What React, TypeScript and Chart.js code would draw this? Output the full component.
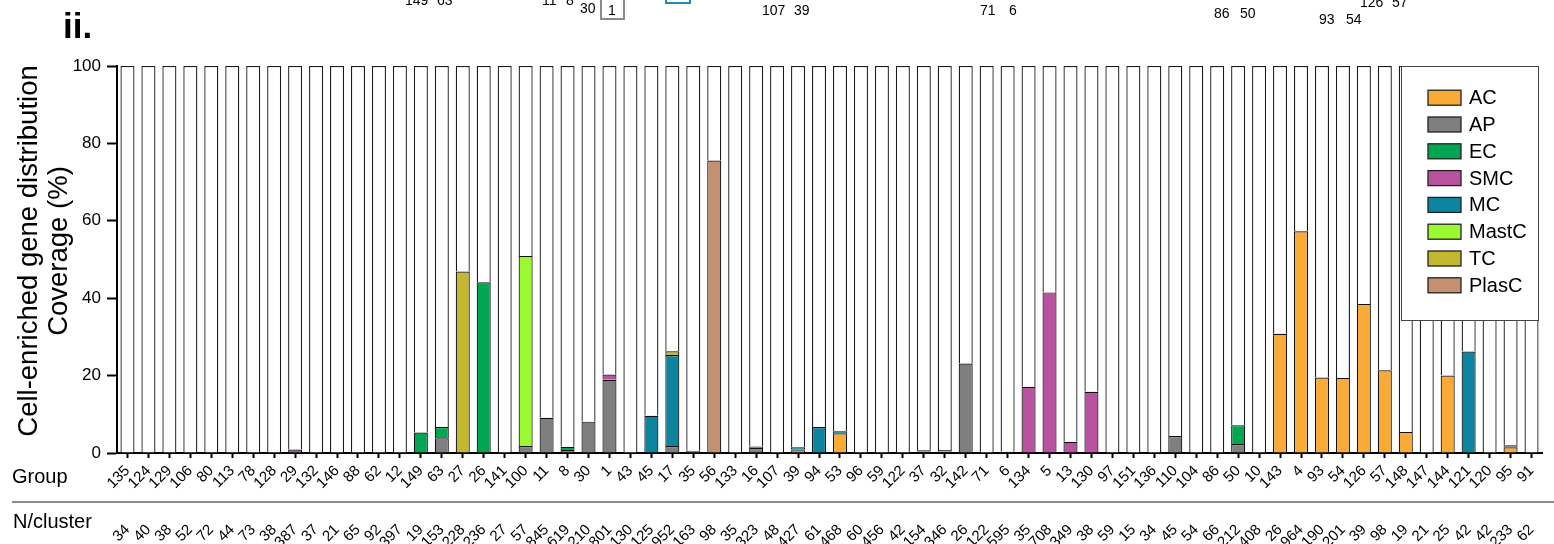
import React, { useEffect, useRef } from "react";
import { Chart, registerables } from "chart.js";

Chart.register(...registerables);

const FONT = '"Liberation Sans", Arial, Helvetica, sans-serif';

const groups = [
  "135", "124", "129", "106", "80", "113", "78", "128", "29", "132",
  "146", "88", "62", "12", "149", "63", "27", "26", "141", "100",
  "11", "8", "30", "1", "43", "45", "17", "35", "56", "133",
  "16", "107", "39", "94", "53", "96", "59", "122", "37", "32",
  "142", "71", "6", "134", "5", "13", "130", "97", "151", "136",
  "110", "104", "86", "50", "10", "143", "4", "93", "54", "126",
  "57", "148", "147", "144", "121", "120", "95", "91",
];

const nPerCluster = [
  "34", "40", "38", "52", "72", "44", "73", "38", "387", "37",
  "21", "65", "92", "397", "19", "153", "228", "236", "27", "57",
  "845", "619", "210", "801", "130", "125", "952", "163", "98", "35",
  "323", "48", "427", "61", "468", "60", "456", "42", "154", "346",
  "26", "122", "595", "35", "708", "349", "38", "59", "15", "34",
  "45", "54", "66", "212", "408", "26", "964", "190", "201", "39",
  "98", "19", "21", "25", "42", "42", "233", "62",
];

const AC = [
  0, 0, 0, 0, 0, 0, 0, 0, 0, 0,
  0, 0, 0, 0, 0, 0, 0, 0, 0, 0,
  0, 0, 0, 0, 0, 0, 0, 0, 0, 0,
  0, 0, 0.7, 0, 5.1, 0, 0, 0, 0, 0,
  0, 0, 0, 0, 0, 0, 0, 0, 0, 0,
  0, 0, 0, 0, 0, 30.8, 57.3, 19.5, 19.4, 38.5,
  21.4, 5.4, 0, 20.0, 0, 0, 1.5, 0,
];

const AP = [
  0, 0, 0, 0, 0, 0, 0, 0, 0, 0,
  0, 0, 0, 0, 0, 3.8, 0, 0, 0, 1.8,
  9.1, 0.8, 8.1, 18.9, 0, 0, 1.8, 0.6, 0, 0,
  1.3, 0, 0.3, 0, 0, 0, 0, 0, 0.3, 0.3,
  23.1, 0, 0.3, 0, 0, 0, 0, 0, 0, 0,
  4.4, 0, 0, 2.3, 0, 0, 0, 0, 0, 0,
  0, 0, 0, 0, 0, 0, 0.5, 0,
];

const EC = [
  0, 0, 0, 0, 0, 0, 0, 0, 0, 0,
  0, 0, 0, 0, 5.3, 2.9, 0, 44.1, 0, 0,
  0, 0.8, 0, 0, 0, 0, 0, 0, 0, 0,
  0, 0, 0, 0, 0, 0, 0, 0, 0.4, 0,
  0, 0, 0, 0, 0, 0, 0, 0, 0, 0,
  0, 0, 0, 4.9, 0, 0, 0, 0, 0, 0,
  0, 0, 0, 0, 0, 0, 0, 0,
];

const SMC = [
  0, 0, 0, 0, 0, 0, 0, 0, 0.9, 0,
  0, 0, 0, 0, 0, 0, 0, 0, 0, 0,
  0, 0, 0, 1.4, 0, 0, 0, 0, 0, 0,
  0.4, 0, 0, 0, 0, 0, 0, 0, 0, 0.5,
  0, 0, 0, 17.1, 41.5, 2.9, 15.8, 0, 0, 0,
  0, 0, 0, 0, 0, 0, 0, 0, 0, 0,
  0, 0, 0, 0, 0, 0, 0, 0,
];

const MC = [
  0, 0, 0, 0, 0, 0, 0, 0, 0, 0,
  0, 0, 0, 0, 0, 0, 0, 0, 0, 0,
  0, 0, 0, 0, 0, 9.6, 23.5, 0, 0, 0,
  0, 0, 0.5, 6.7, 0.5, 0, 0, 0, 0, 0,
  0, 0, 0, 0, 0, 0, 0, 0, 0, 0,
  0, 0, 0, 0, 0, 0, 0, 0, 0, 0,
  0, 0, 0, 0, 26.2, 0, 0, 0,
];

const MastC = [
  0, 0, 0, 0, 0, 0, 0, 0, 0, 0,
  0, 0, 0, 0, 0, 0, 0, 0, 0, 49.1,
  0, 0, 0, 0, 0, 0, 0, 0, 0, 0,
  0, 0, 0, 0, 0, 0, 0, 0, 0, 0,
  0, 0, 0, 0, 0, 0, 0, 0, 0, 0,
  0, 0, 0, 0, 0, 0, 0, 0, 0, 0,
  0, 0, 0, 0, 0, 0, 0, 0,
];

const TC = [
  0, 0, 0, 0, 0, 0, 0, 0, 0, 0,
  0, 0, 0, 0, 0, 0, 46.9, 0, 0, 0,
  0, 0, 0, 0, 0, 0, 1.0, 0, 0, 0,
  0, 0, 0, 0, 0, 0, 0, 0, 0, 0,
  0, 0, 0, 0, 0, 0, 0, 0, 0, 0,
  0, 0, 0, 0, 0, 0, 0, 0, 0, 0,
  0, 0, 0, 0, 0, 0, 0, 0,
];

const PlasC = [
  0, 0, 0, 0, 0, 0, 0, 0, 0, 0,
  0, 0, 0, 0, 0, 0, 0, 0, 0, 0,
  0, 0, 0, 0, 0, 0, 0, 0, 75.6, 0,
  0, 0, 0, 0, 0, 0, 0, 0, 0, 0,
  0, 0, 0, 0, 0, 0, 0, 0, 0, 0,
  0, 0, 0, 0, 0, 0, 0, 0, 0, 0,
  0, 0, 0, 0, 0, 0, 0, 0,
];

const cellTypes = ["AC", "AP", "EC", "SMC", "MC", "MastC", "TC", "PlasC"];
const cellSeries = [AC, AP, EC, SMC, MC, MastC, TC, PlasC];
const cellColors = [
  "#FAAA36", "#7F7F7F", "#00A651", "#B9539F",
  "#0C86A0", "#9BF932", "#C4B831", "#C3916F",
];

const yTitleLines = ["Cell-enriched gene distribution", "Coverage (%)"];
const rowTitles = ["Group", "N/cluster"];

const overlayPlugin = {
  id: "overlay",
  afterDraw(chart: any) {
    const ctx = chart.ctx as CanvasRenderingContext2D;
    ctx.save();
    ctx.fillStyle = "#000";

    // y-axis title (two lines)
    ctx.save();
    ctx.font = `27.5px ${FONT}`;
    ctx.textAlign = "center";
    ctx.textBaseline = "middle";
    ctx.translate(29.5, 251);
    ctx.rotate(-Math.PI / 2);
    ctx.fillText(yTitleLines[0], 0, 0);
    ctx.fillText(yTitleLines[1], 0, 30);
    ctx.restore();

    // row titles and separator
    ctx.font = `20px ${FONT}`;
    ctx.textAlign = "left";
    ctx.textBaseline = "alphabetic";
    ctx.fillText(rowTitles[0], 12, 483);
    ctx.fillText(rowTitles[1], 13, 528);
    ctx.strokeStyle = "#666";
    ctx.lineWidth = 1.5;
    ctx.beginPath();
    ctx.moveTo(12, 502);
    ctx.lineTo(1554, 502);
    ctx.stroke();

    // panel label
    ctx.font = `bold 35px ${FONT}`;
    ctx.fillText("ii.", 63, 38);

    // fragments of the panel above (cut off)
    ctx.font = `14px ${FONT}`;
    const frags: [string, number, number][] = [
      ["149", 405, 5], ["63", 437, 5],
      ["11", 542, 5], ["8", 566, 5],
      ["30", 580, 13], ["1", 608, 15],
      ["107", 762, 15], ["39", 794, 15],
      ["71", 980, 15], ["6", 1009, 15],
      ["86", 1214, 18], ["50", 1240, 18],
      ["93", 1319, 24], ["54", 1346, 24],
      ["126", 1360, 7], ["57", 1392, 7],
    ];
    frags.forEach(([t, x, y]) => ctx.fillText(t, x, y));
    ctx.lineWidth = 2;
    ctx.strokeStyle = "#8a8a8a";
    ctx.strokeRect(601, -3, 23, 22);
    ctx.strokeStyle = "#1a8fa8";
    ctx.strokeRect(666, -20, 24, 23);

    // legend box
    ctx.fillStyle = "#fff";
    ctx.fillRect(1402, 67, 136, 253);
    ctx.strokeStyle = "#444";
    ctx.lineWidth = 1;
    ctx.strokeRect(1401.5, 66.5, 137, 254);
    ctx.font = `20px ${FONT}`;
    ctx.textBaseline = "middle";
    cellTypes.forEach((name, i) => {
      const cy = 97.7 + i * 26.8;
      ctx.fillStyle = cellColors[i];
      ctx.fillRect(1428, cy - 7.5, 33, 15);
      ctx.strokeStyle = "#222";
      ctx.lineWidth = 1.3;
      ctx.strokeRect(1428, cy - 7.5, 33, 15);
      ctx.fillStyle = "#000";
      ctx.fillText(name, 1469, cy + 1);
    });

    ctx.restore();
  },
};

export default function App() {
  const canvasRef = useRef<HTMLCanvasElement | null>(null);

  useEffect(() => {
    if (!canvasRef.current) return;
    const remainder = groups.map((_, i) => {
      const s = cellSeries.reduce((acc, arr) => acc + arr[i], 0);
      return Math.max(0, 100 - s);
    });
    const datasets: any[] = cellSeries.map((arr, k) => ({
      label: cellTypes[k],
      data: arr.map((v) => (v > 0 ? v : null)),
      backgroundColor: cellColors[k],
      borderColor: "#111111",
      borderWidth: 1.2,
      barPercentage: 0.67,
      categoryPercentage: 1,
      stack: "s",
    }));
    datasets.push({
      label: "rest",
      data: remainder,
      backgroundColor: "#ffffff",
      borderColor: "#1a1a1a",
      borderWidth: 1.3,
      barPercentage: 0.67,
      categoryPercentage: 1,
      stack: "s",
    });

    const chart = new Chart(canvasRef.current, {
      type: "bar",
      data: { labels: groups, datasets },
      options: {
        animation: false,
        responsive: false,
        devicePixelRatio: 1,
        layout: { padding: { left: 0, top: 66, right: 12, bottom: 0 } },
        plugins: { legend: { display: false }, tooltip: { enabled: false } },
        scales: {
          x: {
            stacked: true,
            weight: 0,
            offset: true,
            grid: {
              display: true,
              offset: false,
              drawOnChartArea: false,
              drawTicks: true,
              tickLength: 5,
              tickWidth: 2,
              tickColor: "#000",
            },
            border: { display: true, color: "#000", width: 2 },
            ticks: {
              autoSkip: false,
              maxRotation: 45,
              minRotation: 45,
              padding: 4,
              color: "#000",
              font: { family: FONT, size: 15 },
            },
            afterFit: (s: any) => {
              s.height = 50;
              s.paddingLeft = 0;
              s.paddingRight = 0;
            },
          },
          x2: {
            type: "category",
            labels: nPerCluster,
            position: "bottom",
            weight: 1,
            offset: true,
            grid: { display: false, drawTicks: false },
            border: { display: false },
            ticks: {
              autoSkip: false,
              maxRotation: 45,
              minRotation: 45,
              padding: 18,
              color: "#000",
              font: { family: FONT, size: 15 },
            },
            afterFit: (s: any) => {
              s.height = 41;
              s.paddingLeft = 0;
              s.paddingRight = 0;
            },
          },
          y: {
            stacked: true,
            min: 0,
            max: 100,
            ticks: {
              stepSize: 20,
              padding: 6,
              color: "#000",
              font: { family: FONT, size: 17 },
            },
            grid: {
              display: true,
              drawOnChartArea: false,
              drawTicks: true,
              tickLength: 10,
              tickWidth: 2,
              tickColor: "#000",
            },
            border: { display: true, color: "#000", width: 2 },
            afterFit: (s: any) => {
              s.width = 117;
            },
          },
        },
      } as any,
      plugins: [overlayPlugin],
    });
    return () => chart.destroy();
  }, []);

  return (
    <div style={{ position: "absolute", left: 0, top: 0, width: 1554, height: 544, background: "#fff" }}>
      <canvas ref={canvasRef} width={1554} height={544} style={{ display: "block" }} />
    </div>
  );
}
